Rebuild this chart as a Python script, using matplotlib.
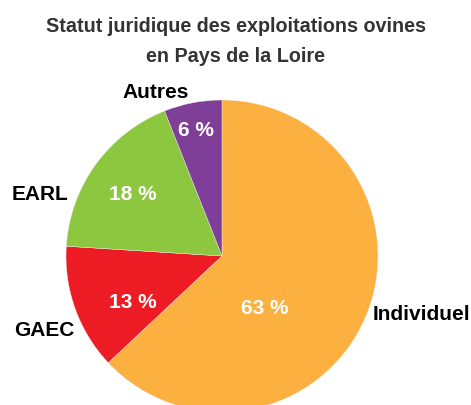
import matplotlib.pyplot as plt

statuts = ['Individuel', 'GAEC', 'EARL', 'Autres']
parts = [63, 13, 18, 6]
couleurs = ['#FBB040', '#ED1C24', '#8DC63F', '#7F3F98']

# label positions in pixels (x, y from top)
pos_noms = [(421, 314), (44, 330), (40, 195), (156, 92)]
pos_pct = [(265, 308), (133, 302), (133, 194), (196, 130)]

H = 405
fig = plt.figure(figsize=(4.71, 4.05), dpi=100)
ax = fig.add_axes([0, 0, 1, 1])

ax.pie(parts, colors=couleurs, startangle=90, counterclock=False,
       center=(222, H - 256), radius=156,
       wedgeprops=dict(linewidth=0.3, edgecolor='#eeeeee'))

ax.set_xlim(0, 471)
ax.set_ylim(0, H)
ax.set_aspect('equal')
ax.axis('off')

for nom, (x, y) in zip(statuts, pos_noms):
    ax.text(x, H - y, nom, ha='center', va='center', fontsize=15,
            fontweight='bold', family='Liberation Sans', color='black')

for p, (x, y) in zip(parts, pos_pct):
    ax.text(x, H - y, f'{p} %', ha='center', va='center', fontsize=15,
            fontweight='bold', family='Liberation Sans', color='white')

ax.text(236, H - 27, 'Statut juridique des exploitations ovines',
        ha='center', va='center', fontsize=14.2, fontweight='bold',
        family='Liberation Sans', color='#333333')
ax.text(236, H - 56, 'en Pays de la Loire',
        ha='center', va='center', fontsize=14.2, fontweight='bold',
        family='Liberation Sans', color='#333333')

fig.savefig('out.png', dpi=100)
